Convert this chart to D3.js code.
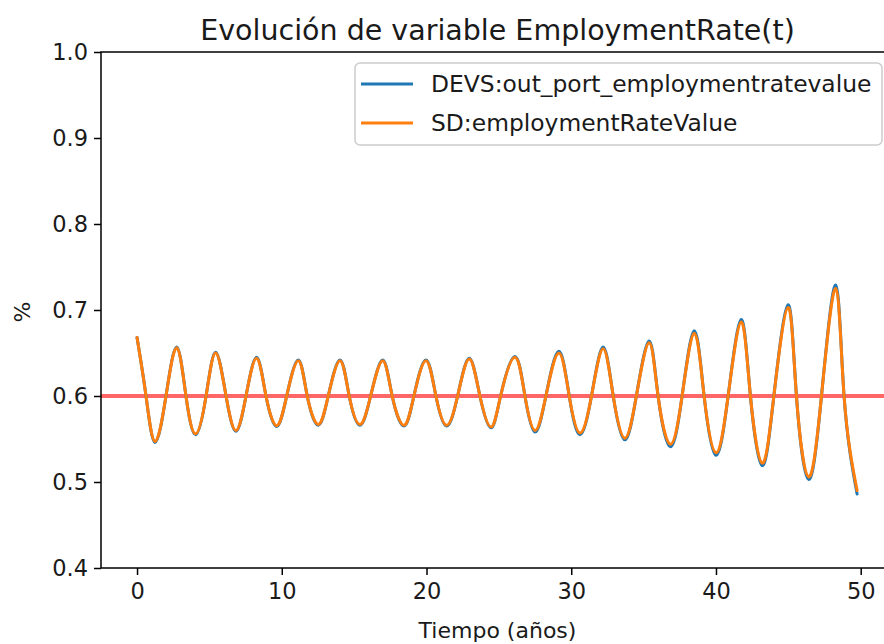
<!DOCTYPE html>
<html>
<head>
<meta charset="utf-8">
<script src="https://cdn.jsdelivr.net/npm/d3@7"></script>
<style>
  body { margin: 0; background: #fff; }
  svg text { font-family: "DejaVu Sans", sans-serif; fill: #1a1a1a; }
</style>
</head>
<body>
<div id="chart"></div>
<script>
// time (years): extremes and crossings of 0.6
var tiempo = [0, 0.62, 1.24, 2.0, 2.74, 3.38, 4.05, 4.77, 5.43, 6.15, 6.84, 7.53, 8.26, 8.91,
    9.65, 10.34, 11.14, 11.76, 12.52, 13.21, 14.02, 14.66, 15.4, 16.14, 16.97, 17.63, 18.44,
    19.13, 19.96, 20.65, 21.39, 22.15, 22.95, 23.69, 24.46, 25.12, 26.1, 26.8, 27.5, 28.25,
    29.14, 29.86, 30.6, 31.4, 32.2, 32.9, 33.7, 34.5, 35.38, 36.0, 36.85, 37.66, 38.5, 39.18,
    40.0, 40.84, 41.74, 42.38, 43.2, 44.0, 44.98, 45.56, 46.4, 47.29, 48.27, 48.85, 49.75];

var devsValues = [0.668, 0.6, 0.546, 0.6, 0.657, 0.6, 0.555, 0.6, 0.651, 0.6, 0.559, 0.6, 0.645,
    0.6, 0.5645, 0.6, 0.642, 0.6, 0.566, 0.6, 0.642, 0.6, 0.566, 0.6, 0.642, 0.6, 0.565, 0.6,
    0.642, 0.6, 0.565, 0.6, 0.644, 0.6, 0.563, 0.6, 0.646, 0.6, 0.558, 0.6, 0.652, 0.6, 0.555,
    0.6, 0.657, 0.6, 0.549, 0.6, 0.664, 0.6, 0.541, 0.6, 0.676, 0.6, 0.531, 0.6, 0.689, 0.6,
    0.519, 0.6, 0.706, 0.6, 0.503, 0.6, 0.729, 0.6, 0.486];

var sdValues = [0.668, 0.6, 0.547, 0.6, 0.656, 0.6, 0.556, 0.6, 0.650, 0.6, 0.560, 0.6, 0.644,
    0.6, 0.5655, 0.6, 0.641, 0.6, 0.567, 0.6, 0.641, 0.6, 0.567, 0.6, 0.641, 0.6, 0.566, 0.6,
    0.641, 0.6, 0.566, 0.6, 0.643, 0.6, 0.564, 0.6, 0.645, 0.6, 0.560, 0.6, 0.650, 0.6, 0.557,
    0.6, 0.655, 0.6, 0.551, 0.6, 0.662, 0.6, 0.544, 0.6, 0.673, 0.6, 0.534, 0.6, 0.686, 0.6,
    0.522, 0.6, 0.703, 0.6, 0.506, 0.6, 0.725, 0.6, 0.490];

var seriesNames = ["DEVS:out_port_employmentratevalue", "SD:employmentRateValue"];
var seriesColors = ["#1f77b4", "#ff7f0e"];
var referenceValue = 0.6;

var xTicks = [0, 10, 20, 30, 40, 50];
var yTicks = [0.4, 0.5, 0.6, 0.7, 0.8, 0.9, 1.0];

var titleText = "Evolución de variable EmploymentRate(t)";
var xLabel = "Tiempo (años)";
var yLabel = "%";

function EmploymentChart() {

    var W = 884, H = 644;
    var margin = { top: 52, right: -10, bottom: 76, left: 101 },
        width = W - margin.left - margin.right,
        height = H - margin.top - margin.bottom;

    var svg = d3.select("#chart")
        .append("svg")
        .attr("width", W)
        .attr("height", H);

    var g = svg.append("g")
        .attr("transform", "translate(" + margin.left + "," + margin.top + ")");

    // matplotlib style 5% padding around the data range
    var x = d3.scaleLinear()
        .domain([-2.49, 52.3])
        .range([0, width]);

    var y = d3.scaleLinear()
        .domain([0.4, 1.0])
        .range([height, 0]);

    // reference line
    g.append("line")
        .attr("x1", 0)
        .attr("x2", width)
        .attr("y1", y(referenceValue))
        .attr("y2", y(referenceValue))
        .attr("stroke", "red")
        .attr("stroke-opacity", 0.6)
        .attr("stroke-width", 4);

    var line = d3.line()
        .x((d, i) => x(tiempo[i]))
        .y(d => y(d))
        .curve(d3.curveNatural);

    [devsValues, sdValues].forEach(function (vals, k) {
        g.append("path")
            .datum(vals)
            .attr("fill", "none")
            .attr("stroke", seriesColors[k])
            .attr("stroke-width", 3)
            .attr("stroke-linejoin", "round")
            .attr("stroke-linecap", "round")
            .attr("d", line);
    });

    // axes
    var xAxis = g.append("g")
        .attr("transform", "translate(0," + height + ")")
        .call(d3.axisBottom(x).tickValues(xTicks).tickSize(7).tickPadding(8).tickFormat(d3.format("d")));

    var yAxis = g.append("g")
        .call(d3.axisLeft(y).tickValues(yTicks).tickSize(7).tickPadding(6).tickFormat(d3.format(".1f")));

    [xAxis, yAxis].forEach(function (a) {
        a.select(".domain").remove();
        a.selectAll(".tick line").attr("stroke", "#000").attr("stroke-width", 1.5);
        a.selectAll(".tick text")
            .attr("font-family", "DejaVu Sans")
            .attr("font-size", 22.5)
            .attr("fill", "#1a1a1a");
    });

    // spines
    g.append("rect")
        .attr("x", 0)
        .attr("y", 0)
        .attr("width", width)
        .attr("height", height)
        .attr("fill", "none")
        .attr("stroke", "#000")
        .attr("stroke-width", 1.5);

    // legend
    var leg = g.append("g")
        .attr("transform", "translate(" + (355 - margin.left) + "," + (63 - margin.top) + ")");
    leg.append("rect")
        .attr("width", 527)
        .attr("height", 82)
        .attr("rx", 5)
        .attr("fill", "white")
        .attr("fill-opacity", 0.8)
        .attr("stroke", "#cccccc")
        .attr("stroke-width", 1.5);
    seriesNames.forEach(function (name, k) {
        var ly = 21 + k * 39;
        leg.append("line")
            .attr("x1", 6).attr("x2", 58)
            .attr("y1", ly).attr("y2", ly)
            .attr("stroke", seriesColors[k])
            .attr("stroke-width", 3);
        leg.append("text")
            .attr("x", 76)
            .attr("y", ly)
            .attr("dy", "0.36em")
            .attr("font-size", 23.4)
            .text(name);
    });

    // title and labels
    svg.append("text")
        .attr("x", margin.left + (894 - margin.left) / 2)
        .attr("y", 40)
        .attr("text-anchor", "middle")
        .attr("font-size", 28.5)
        .text(titleText);

    svg.append("text")
        .attr("x", margin.left + (894 - margin.left) / 2)
        .attr("y", 638)
        .attr("text-anchor", "middle")
        .attr("font-size", 22)
        .text(xLabel);

    svg.append("text")
        .attr("transform", "translate(30,312) rotate(-90)")
        .attr("text-anchor", "middle")
        .attr("font-size", 22)
        .text(yLabel);
}

EmploymentChart();
</script>
</body>
</html>
